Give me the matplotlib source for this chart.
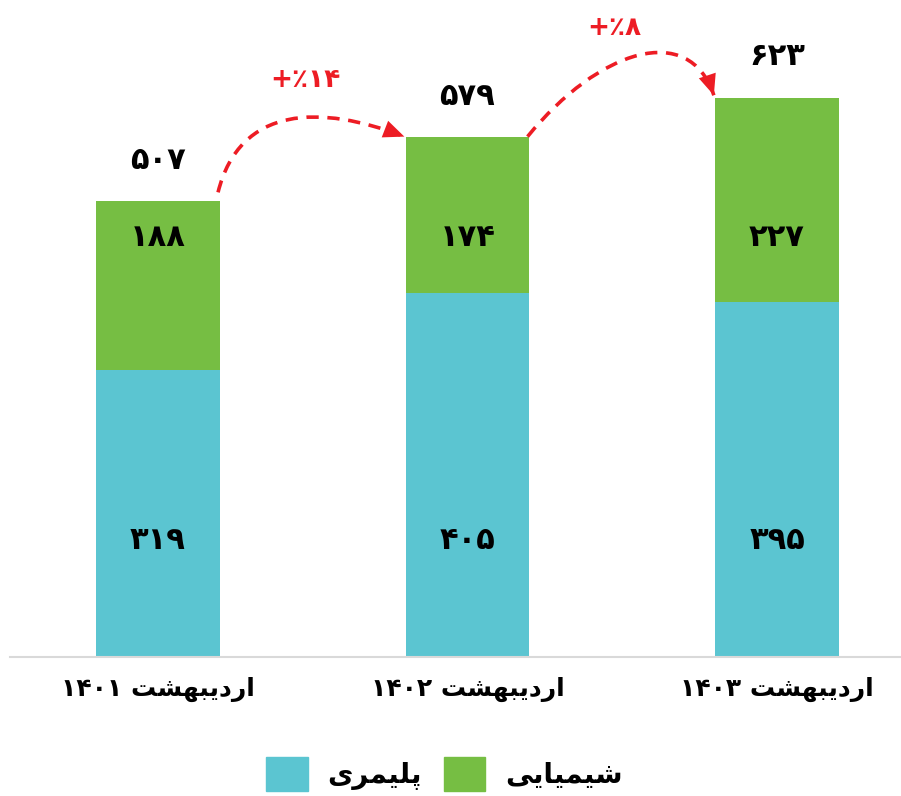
import matplotlib
matplotlib.use("Agg")
import matplotlib.pyplot as plt
from matplotlib.patches import FancyArrowPatch, Patch
from matplotlib.path import Path

# data
categories = ["اردیبهشت ۱۴۰۱", "اردیبهشت ۱۴۰۲", "اردیبهشت ۱۴۰۳"]
polymer = [319, 405, 395]
chemical = [188, 174, 227]
totals = [507, 579, 623]
series_names = ["پلیمری", "شیمیایی"]

cyan = "#5BC5D1"
green = "#76BE43"
red = "#ED1C24"

# minimal persian shaping (matplotlib has no complex text layout)
FORMS = {
    "ا": ("\uFE8D", "\uFE8E", None, None),
    "ر": ("\uFEAD", "\uFEAE", None, None),
    "د": ("\uFEA9", "\uFEAA", None, None),
    "ی": ("\uFBFC", "\uFBFD", "\uFBFE", "\uFBFF"),
    "ب": ("\uFE8F", "\uFE90", "\uFE91", "\uFE92"),
    "ه": ("\uFEE9", "\uFEEA", "\uFEEB", "\uFEEC"),
    "ش": ("\uFEB5", "\uFEB6", "\uFEB7", "\uFEB8"),
    "ت": ("\uFE95", "\uFE96", "\uFE97", "\uFE98"),
    "پ": ("\uFB56", "\uFB57", "\uFB58", "\uFB59"),
    "ل": ("\uFEDD", "\uFEDE", "\uFEDF", "\uFEE0"),
    "م": ("\uFEE1", "\uFEE2", "\uFEE3", "\uFEE4"),
}


def joins_next(ch):
    return ch in FORMS and FORMS[ch][2] is not None


def shape_word(word):
    out = []
    for i, ch in enumerate(word):
        if ch not in FORMS:
            out.append(ch)
            continue
        prev_j = i > 0 and joins_next(word[i - 1])
        next_j = i < len(word) - 1 and word[i + 1] in FORMS and joins_next(ch)
        iso, fin, ini, med = FORMS[ch]
        if prev_j and next_j:
            out.append(med)
        elif prev_j:
            out.append(fin)
        elif next_j:
            out.append(ini)
        else:
            out.append(iso)
    return "".join(reversed(out))


def rtl(text):
    tokens = text.split(" ")
    vis = [t if not any(c in FORMS for c in t) else shape_word(t) for t in tokens]
    return " ".join(reversed(vis))


def fa(n):
    return str(n).translate(str.maketrans("0123456789", "۰۱۲۳۴۵۶۷۸۹"))


x = list(range(len(categories)))
w = 0.4

plt.rcParams["font.family"] = ["DejaVu Sans"]
fig = plt.figure(figsize=(9.01, 7.96), dpi=100)
ax = fig.add_axes([0.0, 0.1746, 1.0, 0.8254])

ax.bar(x, polymer, w, color=cyan)
ax.bar(x, chemical, w, bottom=polymer, color=green)

for i in x:
    ax.text(i, 130, fa(polymer[i]), ha="center", va="center",
            fontsize=22, fontweight="bold")
    ax.text(i, 467, fa(chemical[i]), ha="center", va="center",
            fontsize=22, fontweight="bold")
    ax.text(i, totals[i] + 45, fa(totals[i]), ha="center", va="center",
            fontsize=22, fontweight="bold")

# growth arrows (cubic curves between bar tops)
start_lift = [10, 0]
end_lift = [0, 2]
ctrl1 = [(0.07, 97), (0.23, 97)]
ctrl2 = [(-0.27, 36), (-0.08, 83)]
for i in range(len(x) - 1):
    p0 = (x[i] + w / 2 - 0.006, totals[i] + start_lift[i])
    p3 = (x[i + 1] - w / 2 - 0.004, totals[i + 1] + end_lift[i])
    p1 = (p0[0] + ctrl1[i][0], p0[1] + ctrl1[i][1])
    p2 = (p3[0] + ctrl2[i][0], p3[1] + ctrl2[i][1])
    path = Path([p0, p1, p2, p3],
                [Path.MOVETO, Path.CURVE4, Path.CURVE4, Path.CURVE4])
    ax.add_patch(FancyArrowPatch(path=path, arrowstyle="-", color=red,
                                 lw=2.6, linestyle=(0, (3.4, 2.4)),
                                 capstyle="butt"))
    ax.add_patch(FancyArrowPatch(path=path,
                                 arrowstyle="-|>,head_length=0.75,head_width=0.32",
                                 mutation_scale=20, color=red, lw=0))
    pct = round((totals[i + 1] / totals[i] - 1) * 100)
    ax.text((p0[0] + p3[0]) / 2 - 0.02, (totals[i] + totals[i + 1]) / 2 + 99,
            "+٪" + fa(pct), ha="center", va="center", color=red,
            fontsize=19, fontweight="bold")

ax.set_xlim(-0.5105, 2.4007)
ax.set_ylim(0, 731)
ax.set_yticks([])
ax.set_xticks(x)
ax.set_xticklabels([rtl(c) for c in categories], fontsize=18, fontweight="bold")
ax.tick_params(axis="x", length=0, pad=14)
for s in ["top", "right", "left"]:
    ax.spines[s].set_visible(False)
ax.spines["bottom"].set_color("#D9D9D9")
ax.spines["bottom"].set_linewidth(1.5)
ax.spines["bottom"].set_bounds(-0.478, 2.4007)

handles = [Patch(color=cyan), Patch(color=green)]
fig.legend(handles, [rtl(s) for s in series_names], loc="center",
           bbox_to_anchor=(0.493, 0.028), ncol=2, frameon=False,
           prop={"size": 20, "weight": "bold"}, handlelength=1.5,
           handleheight=1.5, handletextpad=0.7, columnspacing=0.8)

fig.savefig("out.png", dpi=100)
